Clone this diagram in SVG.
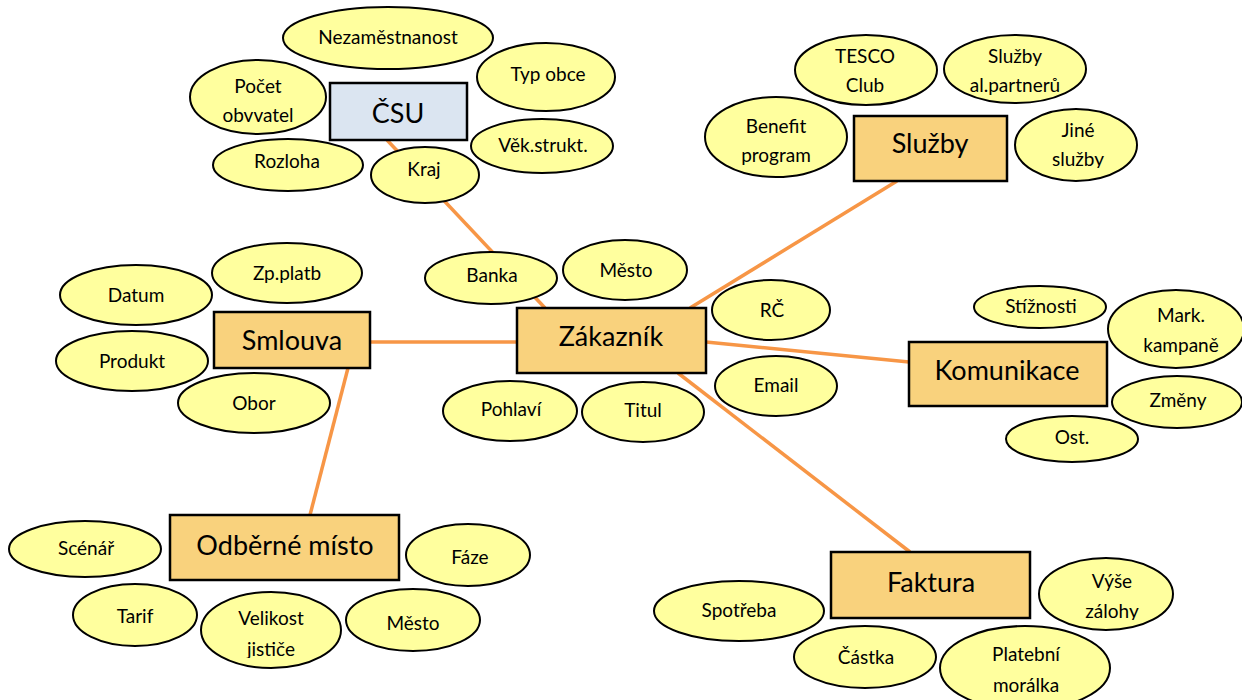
<svg xmlns="http://www.w3.org/2000/svg" width="1242" height="700" viewBox="0 0 1242 700">
<style>
.e{fill:#ffff9e;stroke:#000;stroke-width:2}
.b{fill:#f9d27d;stroke:#000;stroke-width:2.5}
.bb{fill:#dbe5f1;stroke:#000;stroke-width:2.5}
.t{font-family:Lato,"Liberation Sans",sans-serif;font-size:19px;fill:#000;text-anchor:middle}
.T{font-family:Lato,"Liberation Sans",sans-serif;font-size:27px;fill:#000;text-anchor:middle}
.c{stroke:#f79646;stroke-width:3.5;fill:none}
</style>
<defs>
<clipPath id="cl1"><rect x="1015" y="110" width="122" height="58"/></clipPath>
<clipPath id="cl2"><rect x="202" y="592" width="140" height="66"/></clipPath>
<clipPath id="cl3"><rect x="1040" y="559" width="135" height="61"/></clipPath>
</defs>
<rect width="1242" height="700" fill="#fff"/>
<g id="connectors">
<line class="c" x1="387" y1="140" x2="545" y2="308"/>
<line class="c" x1="690" y1="308" x2="897" y2="181"/>
<line class="c" x1="370" y1="342" x2="517" y2="342"/>
<line class="c" x1="706" y1="342" x2="909" y2="362"/>
<line class="c" x1="678" y1="373" x2="910" y2="552"/>
<line class="c" x1="348" y1="368" x2="310" y2="515"/>
</g>
<g id="csu"><rect class="bb" x="330" y="83" width="137" height="57"/><text class="T" x="398" y="123">ČSU</text></g>
<g id="nezamestnanost"><ellipse class="e" cx="388" cy="38" rx="105" ry="31"/><text class="t" x="388" y="44">Nezaměstnanost</text></g>
<g id="typobce"><ellipse class="e" cx="546" cy="77" rx="69" ry="34"/><text class="t" x="548" y="81">Typ obce</text></g>
<g id="pocet"><ellipse class="e" cx="258" cy="97" rx="68" ry="37"/><text class="t" x="258" y="93">Počet</text><text class="t" x="258" y="122">obvvatel</text></g>
<g id="rozloha"><ellipse class="e" cx="288" cy="165" rx="75" ry="26"/><text class="t" x="287" y="168">Rozloha</text></g>
<g id="vek"><ellipse class="e" cx="542" cy="146" rx="71" ry="27"/><text class="t" x="543" y="152">Věk.strukt.</text></g>
<g id="kraj"><ellipse class="e" cx="425" cy="175" rx="54" ry="28"/><text class="t" x="424" y="176">Kraj</text></g>
<g id="sluzby"><rect class="b" x="854" y="116" width="153" height="65"/><text class="T" x="930" y="153">Služby</text></g>
<g id="tesco"><ellipse class="e" cx="866" cy="70" rx="71" ry="35"/><text class="t" x="865" y="63">TESCO</text><text class="t" x="865" y="92">Club</text></g>
<g id="alpartneru"><ellipse class="e" cx="1015" cy="69" rx="71" ry="34"/><text class="t" x="1015" y="63">Služby</text><text class="t" x="1015" y="92">al.partnerů</text></g>
<g id="benefit"><ellipse class="e" cx="776" cy="137" rx="71" ry="40"/><text class="t" x="776" y="133">Benefit</text><text class="t" x="776" y="162">program</text></g>
<g id="jine"><ellipse class="e" cx="1076" cy="145" rx="61" ry="36"/><g clip-path="url(#cl1)"><text class="t" x="1078" y="137">Jiné</text><text class="t" x="1078" y="166">služby</text></g></g>
<g id="zakaznik"><rect class="b" x="517" y="308" width="189" height="65"/><text class="T" x="611" y="346">Zákazník</text></g>
<g id="banka"><ellipse class="e" cx="491" cy="278" rx="66" ry="26"/><text class="t" x="492" y="282">Banka</text></g>
<g id="mesto1"><ellipse class="e" cx="625" cy="270" rx="62" ry="30"/><text class="t" x="626" y="277">Město</text></g>
<g id="rc"><ellipse class="e" cx="771" cy="310" rx="59" ry="30"/><text class="t" x="772" y="317">RČ</text></g>
<g id="email"><ellipse class="e" cx="776" cy="386" rx="61" ry="30"/><text class="t" x="776" y="392">Email</text></g>
<g id="pohlavi"><ellipse class="e" cx="510" cy="411" rx="67" ry="30"/><text class="t" x="511" y="416">Pohlaví</text></g>
<g id="titul"><ellipse class="e" cx="643" cy="412" rx="61" ry="30"/><text class="t" x="643" y="417">Titul</text></g>
<g id="komunikace"><rect class="b" x="909" y="342" width="198" height="64"/><text class="T" x="1007" y="380">Komunikace</text></g>
<g id="stiznosti"><ellipse class="e" cx="1040" cy="307" rx="66" ry="21"/><text class="t" x="1041" y="313">Stížnosti</text></g>
<g id="mark"><ellipse class="e" cx="1176" cy="329" rx="68" ry="39"/><text class="t" x="1181" y="322">Mark.</text><text class="t" x="1181" y="352">kampaně</text></g>
<g id="zmeny"><ellipse class="e" cx="1177" cy="402" rx="65" ry="26"/><text class="t" x="1178" y="407">Změny</text></g>
<g id="ost"><ellipse class="e" cx="1072" cy="439" rx="66" ry="23"/><text class="t" x="1072" y="444">Ost.</text></g>
<g id="smlouva"><rect class="b" x="214" y="312" width="156" height="56"/><text class="T" x="292" y="350">Smlouva</text></g>
<g id="zpplatb"><ellipse class="e" cx="287" cy="273" rx="75" ry="30"/><text class="t" x="287" y="280">Zp.platb</text></g>
<g id="datum"><ellipse class="e" cx="136" cy="295" rx="76" ry="30"/><text class="t" x="136" y="302">Datum</text></g>
<g id="produkt"><ellipse class="e" cx="132" cy="361" rx="76" ry="30"/><text class="t" x="132" y="368">Produkt</text></g>
<g id="obor"><ellipse class="e" cx="254" cy="403" rx="76" ry="30"/><text class="t" x="254" y="410">Obor</text></g>
<g id="odbernemisto"><rect class="b" x="170" y="515" width="229" height="65"/><text class="T" x="285" y="555">Odběrné místo</text></g>
<g id="scenar"><ellipse class="e" cx="85" cy="549" rx="76" ry="28"/><text class="t" x="86" y="555">Scénář</text></g>
<g id="faze"><ellipse class="e" cx="468" cy="555" rx="62" ry="31"/><text class="t" x="470" y="564">Fáze</text></g>
<g id="tarif"><ellipse class="e" cx="135" cy="615" rx="62" ry="31"/><text class="t" x="135" y="623">Tarif</text></g>
<g id="velikost"><ellipse class="e" cx="271" cy="630" rx="70" ry="38"/><g clip-path="url(#cl2)"><text class="t" x="271" y="625">Velikost</text><text class="t" x="271" y="656">jističe</text></g></g>
<g id="mesto2"><ellipse class="e" cx="413" cy="620" rx="67" ry="31"/><text class="t" x="413" y="630">Město</text></g>
<g id="faktura"><rect class="b" x="831" y="552" width="199" height="66"/><text class="T" x="931" y="592">Faktura</text></g>
<g id="spotreba"><ellipse class="e" cx="739" cy="611" rx="85" ry="30"/><text class="t" x="739" y="617">Spotřeba</text></g>
<g id="vyse"><ellipse class="e" cx="1106" cy="594" rx="67" ry="36"/><g clip-path="url(#cl3)"><text class="t" x="1112" y="588">Výše</text><text class="t" x="1112" y="618">zálohy</text></g></g>
<g id="castka"><ellipse class="e" cx="865" cy="657" rx="71" ry="31"/><text class="t" x="866" y="664">Částka</text></g>
<g id="platebni"><ellipse class="e" cx="1025" cy="668" rx="85" ry="42"/><text class="t" x="1026" y="661">Platební</text><text class="t" x="1026" y="692">morálka</text></g>
</svg>
